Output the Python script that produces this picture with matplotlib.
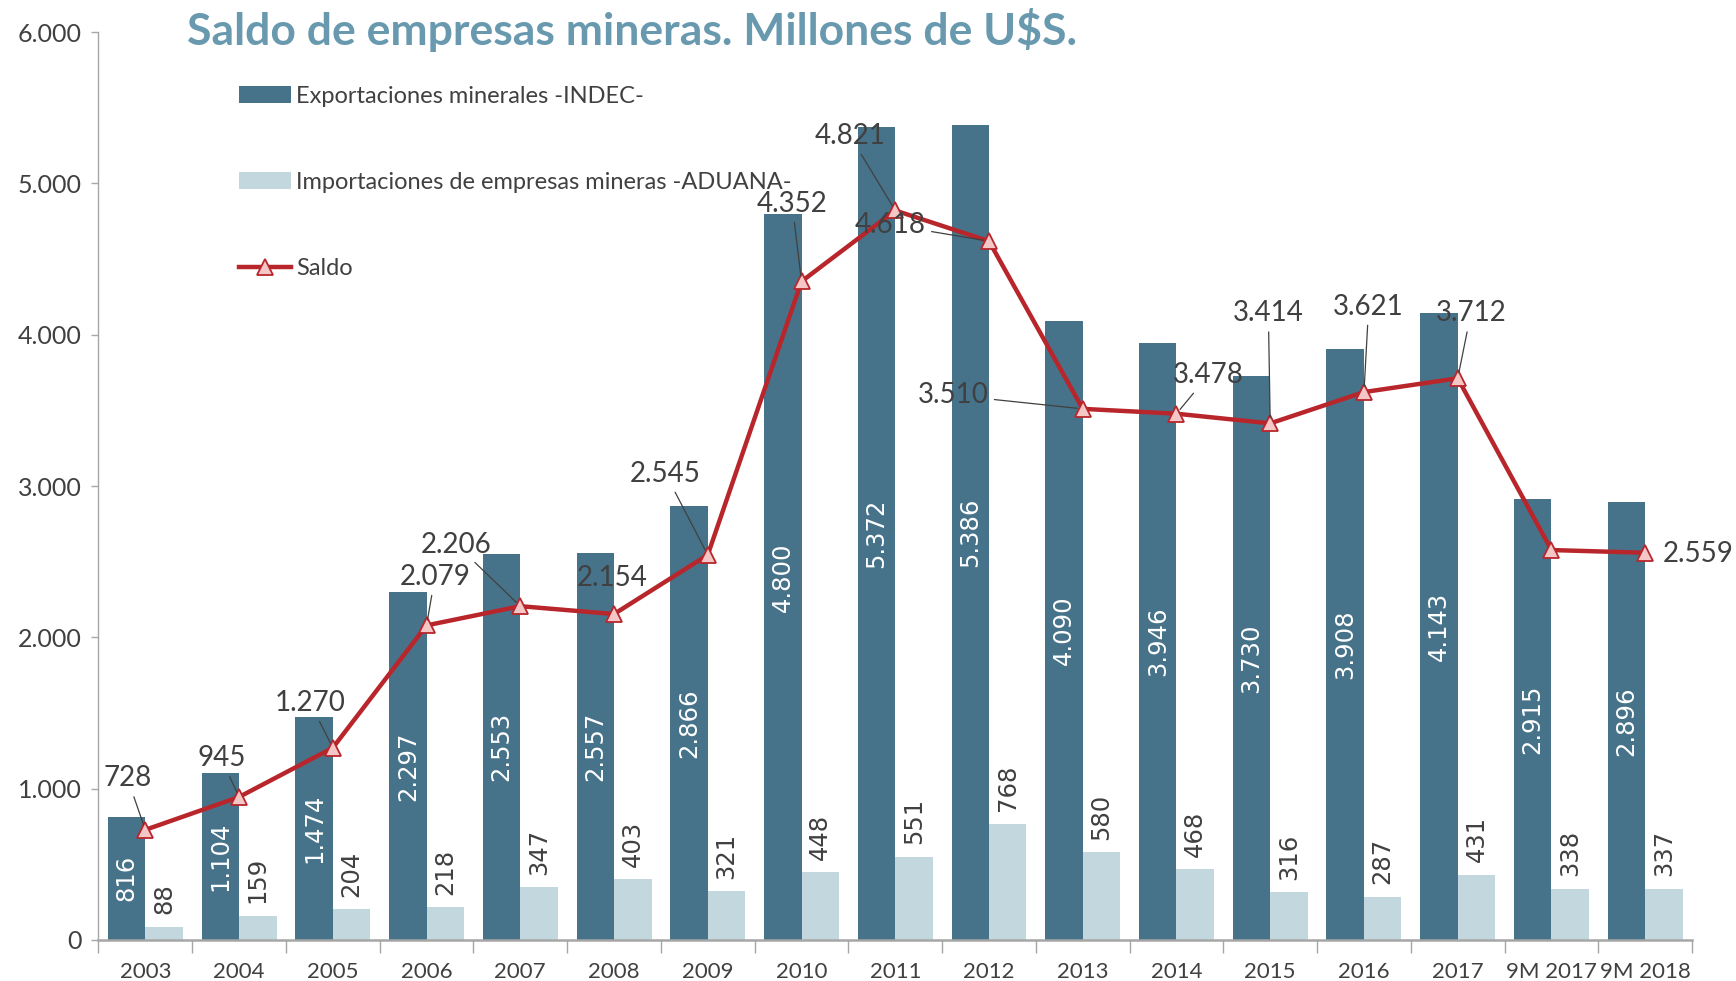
import numpy as np
import matplotlib
matplotlib.use("Agg")
import matplotlib.pyplot as plt
from matplotlib.ticker import FuncFormatter, FixedLocator

# -----------------------------------------------------------------
# Data (millions of US$)
# -----------------------------------------------------------------
categories = ["2003", "2004", "2005", "2006", "2007", "2008", "2009", "2010",
              "2011", "2012", "2013", "2014", "2015", "2016", "2017",
              "9M 2017", "9M 2018"]
exportaciones = [816, 1104, 1474, 2297, 2553, 2557, 2866, 4800, 5372, 5386,
                 4090, 3946, 3730, 3908, 4143, 2915, 2896]
importaciones = [88, 159, 204, 218, 347, 403, 321, 448, 551, 768,
                 580, 468, 316, 287, 431, 338, 337]
saldo = [728, 945, 1270, 2079, 2206, 2154, 2545, 4352, 4821, 4618,
         3510, 3478, 3414, 3621, 3712, 2577, 2559]

# where each saldo label sits (x in category units, y in data units);
# None -> no label shown, leader flag -> draw connector line
saldo_label_pos = [(-0.19, 1068, True), (0.81, 1200, True), (1.76, 1566, True),
                   (3.09, 2400, True), (3.32, 2612, True), (4.98, 2393, False),
                   (5.55, 3080, True), (6.90, 4866, True), (7.52, 5312, True),
                   (7.95, 4727, True), (8.62, 3600, True), (11.34, 3732, True),
                   (11.98, 4141, True), (13.05, 4185, True), (14.14, 4141, True),
                   None, (16.57, 2554, False)]

# -----------------------------------------------------------------
# Style
# -----------------------------------------------------------------
C_EXP = "#47738a"
C_IMP = "#c3d7df"
C_LINE = "#b8262c"
C_MARK = "#f5c6c6"
C_TEXT = "#404040"
C_TITLE = "#6899ae"
FONT = ["Lato", "DejaVu Sans"]

plt.rcParams["font.family"] = FONT


def miles(v, _pos=None):
    return f"{int(round(v)):,}".replace(",", ".")


fig = plt.figure(figsize=(17.36, 9.81), dpi=100)
ax = fig.add_axes([0.0567, 0.0418, 0.918, 0.9255])

x = np.arange(len(categories))
w = 0.4

b_exp = ax.bar(x - w / 2, exportaciones, width=w, color=C_EXP,
               label="Exportaciones minerales -INDEC-", zorder=2)
b_imp = ax.bar(x + w / 2, importaciones, width=w, color=C_IMP,
               label="Importaciones de empresas mineras -ADUANA-", zorder=2)
ln, = ax.plot(x, saldo, color=C_LINE, lw=3.2, marker="^", markersize=11,
              markerfacecolor=C_MARK, markeredgecolor=C_LINE,
              markeredgewidth=1.3, label="Saldo", zorder=4)

# export labels: white, vertical, centred in bar
for xi, v in zip(x, exportaciones):
    ax.text(xi - w / 2, v / 2, miles(v), rotation=90, ha="center", va="center",
            color="white", fontsize=17.5, family="DejaVu Sans", zorder=3)

# import labels: vertical, above bar
for xi, v in zip(x, importaciones):
    ax.annotate(miles(v), (xi + w / 2, v), xytext=(0, 9),
                textcoords="offset points", rotation=90, ha="center",
                va="bottom", color=C_TEXT, fontsize=17.5, family="DejaVu Sans",
                zorder=3)

# saldo labels with leader lines
for xi, v, pos in zip(x, saldo, saldo_label_pos):
    if pos is None:
        continue
    tx, ty, leader = pos
    props = None
    if leader:
        props = dict(arrowstyle="-", color="#404040", lw=0.9,
                     shrinkA=2, shrinkB=4)
    ax.annotate(miles(v), (xi, v), xytext=(tx, ty), textcoords="data",
                ha="center", va="center", color=C_TEXT, fontsize=20,
                arrowprops=props, zorder=5)

# -----------------------------------------------------------------
# Axes
# -----------------------------------------------------------------
ax.set_xlim(-0.5, len(categories) - 0.5)
ax.set_ylim(0, 6000)
ax.set_yticks(np.arange(0, 6001, 1000))
ax.yaxis.set_major_formatter(FuncFormatter(miles))
ax.set_xticks(x)
ax.set_xticklabels(categories)
ax.xaxis.set_minor_locator(FixedLocator(np.arange(-0.5, len(categories), 1)))

ax.tick_params(axis="x", which="major", length=0, pad=16, labelsize=16,
               labelcolor=C_TEXT)
ax.tick_params(axis="x", which="minor", length=9, width=1, color="#a6a6a6",
               direction="out")
ax.tick_params(axis="y", length=5, width=1, color="#a6a6a6", labelsize=18,
               labelcolor=C_TEXT, pad=7)

for s in ["top", "right"]:
    ax.spines[s].set_visible(False)
ax.spines["left"].set_color("#a6a6a6")
ax.spines["left"].set_linewidth(1)
ax.spines["bottom"].set_color("#a6a6a6")
ax.spines["bottom"].set_linewidth(1.8)

# legend
leg = ax.legend(handles=[b_exp, b_imp, ln], loc="upper left",
                bbox_to_anchor=(0.1325, 0.922), bbox_transform=fig.transFigure,
                frameon=False, fontsize=17, handlelength=2.2,
                handletextpad=0.2, labelspacing=2.75, borderaxespad=0)
for t in leg.get_texts():
    t.set_color(C_TEXT)

# title
fig.text(0.108, 0.969, "Saldo de empresas mineras. Millones de U$S.",
         ha="left", va="center", fontsize=32, fontweight="bold",
         color=C_TITLE)

fig.savefig("out.png", dpi=100)
